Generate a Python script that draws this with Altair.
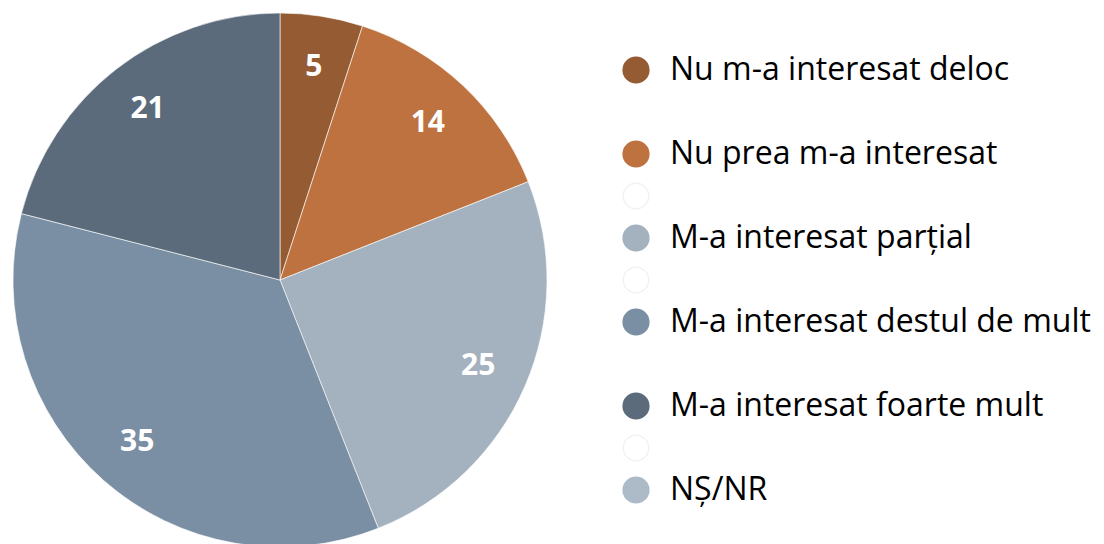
import altair as alt
import pandas as pd

# Pie data
categories = ["Nu m-a interesat deloc", "Nu prea m-a interesat", "M-a interesat parțial",
              "M-a interesat destul de mult", "M-a interesat foarte mult", "NȘ/NR"]
values = [5, 14, 25, 35, 21, 0]
colors = ["#955b32", "#be7240", "#a4b1be", "#7a8fa3", "#5b6b7b", "#adbac8"]

# Legend entries (blank spacer rows included as in the original)
legend_labels = ["Nu m-a interesat deloc", "", "Nu prea m-a interesat", "", "M-a interesat parțial", "",
                 "M-a interesat destul de mult", "", "M-a interesat foarte mult", "", "NȘ/NR"]
legend_fills = ["#955b32", "#ffffff", "#be7240", "#ffffff", "#a4b1be", "#ffffff",
                "#7a8fa3", "#ffffff", "#5b6b7b", "#ffffff", "#adbac8"]
legend_strokes = ["#955b32", "#ffffff", "#be7240", "#f2f2f2", "#a4b1be", "#f2f2f2",
                  "#7a8fa3", "#ffffff", "#5b6b7b", "#f2f2f2", "#adbac8"]

FONT = "Open Sans"

pie_df = pd.DataFrame({"cat": categories, "val": values, "ord": list(range(len(values))), "col": colors})
pie_df = pie_df[pie_df["val"] > 0]

base = alt.Chart(pie_df).encode(
    theta=alt.Theta("val:Q", stack=True),
    order=alt.Order("ord:Q"),
)
arcs = base.mark_arc(outerRadius=267, stroke="#ffffff", strokeWidth=1, strokeOpacity=0.6).encode(
    color=alt.Color("col:N", scale=None)
)
labels = base.mark_text(radius=216, font=FONT, fontSize=30, fontWeight="bold", color="white").encode(
    text=alt.Text("val:Q")
)
pie = alt.layer(arcs, labels).properties(width=544, height=544)

leg_df = pd.DataFrame({
    "label": legend_labels,
    "idx": list(range(len(legend_labels))),
    "fill": legend_fills,
    "stroke": legend_strokes,
})
yenc = alt.Y("idx:Q", scale=alt.Scale(domain=[-62 / 42, (544 - 62) / 42], reverse=True), axis=None)
pts = alt.Chart(leg_df).mark_point(filled=True, size=660, shape="circle", strokeWidth=1.5, opacity=1).encode(
    x=alt.value(84),
    y=yenc,
    fill=alt.Fill("fill:N", scale=None),
    stroke=alt.Stroke("stroke:N", scale=None),
)
txt = alt.Chart(leg_df).mark_text(align="left", baseline="middle", font=FONT, fontSize=32, color="#000000").encode(
    x=alt.value(118),
    y=yenc,
    text="label:N",
)
legend = alt.layer(pts, txt).properties(width=540, height=544)

chart = alt.hconcat(pie, legend, spacing=0).properties(padding=0).configure_view(stroke=None)

chart.save("out.html", embed_options={"renderer": "svg", "actions": False})
